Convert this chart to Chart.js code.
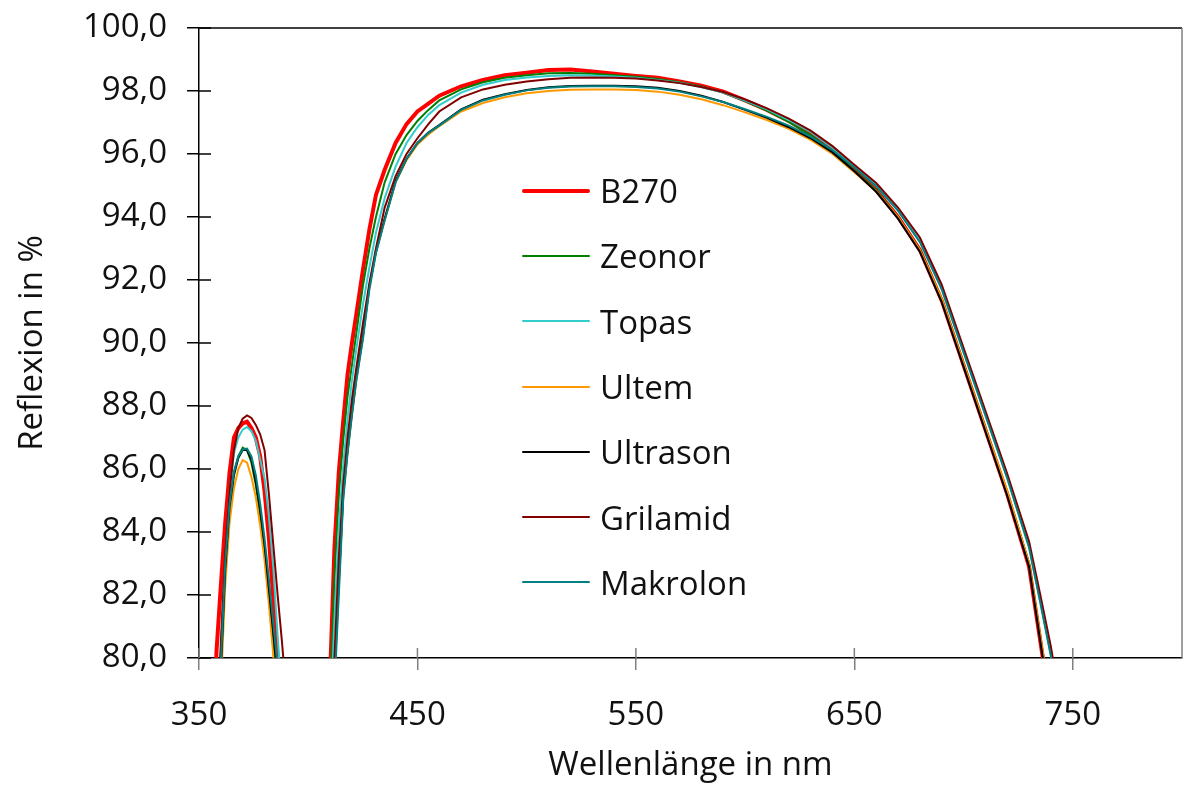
<!DOCTYPE html>
<html>
<head>
<meta charset="utf-8">
<script src="https://cdn.jsdelivr.net/npm/chart.js@4"></script>
<style>
  body { margin: 0; background: #fff; }
  #wrap { position: relative; width: 1184px; height: 785px; }
  #legend { position: absolute; left: 522px; top: 158px; font-family: 'Open Sans', sans-serif; font-size: 33px; color: #111; }
  .row { height: 65.3px; display: flex; align-items: center; }
  .swatch { width: 68px; margin-right: 10px; border-radius: 2px; }
</style>
</head>
<body>
<div id="wrap">
  <canvas id="stage" width="1184" height="785"></canvas>
  <div id="legend"></div>
</div>
<script>
// Wellenlängen [nm]
const wl = [356, 358, 360, 362, 364, 366, 368, 370, 372, 374, 376, 378, 380, 382, 384, 386, 388, 390,
  408, 410, 412, 414, 416, 418, 420, 422, 425, 428, 431, 435, 440, 445, 450, 455, 460,
  470, 480, 490, 500, 510, 520, 530, 540, 550, 560, 570, 580, 590, 600, 610, 620, 630, 640, 650,
  660, 670, 680, 690, 700, 710, 720, 730, 735, 740, 745];

// Reflexion [%] je Material
const b270 = [76.0, 80.2, 82.3, 84.3, 85.9, 87.0, 87.3, 87.45, 87.5, 87.3, 87.0, 86.4, 85.3, 83.8, 81.9, 80.0, 78.0, 76.0,
  75.5, 79.4, 83.5, 85.9, 87.5, 89.0, 90.0, 90.9, 92.3, 93.6, 94.7, 95.5, 96.35, 96.95, 97.35, 97.6, 97.85,
  98.15, 98.35, 98.5, 98.58, 98.67, 98.68, 98.62, 98.55, 98.48, 98.42, 98.3, 98.17, 97.98, 97.7, 97.4, 97.05, 96.62, 96.12, 95.5,
  94.85, 94.0, 92.95, 91.35, 89.3, 87.25, 85.2, 82.9, 80.6, 78.3, 76.3];
const zeonor = [74.0, 77.2, 80.2, 83.2, 85.0, 85.9, 86.4, 86.68, 86.6, 86.2, 85.5, 84.5, 83.3, 81.9, 80.3, 78.6, 77.0, 75.5,
  75.0, 78.8, 82.6, 85.2, 86.9, 88.3, 89.3, 90.3, 91.8, 93.0, 94.0, 95.1, 96.0, 96.6, 97.05, 97.4, 97.7,
  98.05, 98.28, 98.42, 98.5, 98.56, 98.57, 98.55, 98.5, 98.45, 98.38, 98.28, 98.14, 97.95, 97.68, 97.38, 97.02, 96.6, 96.1, 95.47,
  94.85, 94.0, 92.95, 91.4, 89.35, 87.3, 85.25, 83.0, 80.7, 78.4, 76.4];
const topas = [73.5, 76.5, 79.8, 83.0, 85.3, 86.5, 87.0, 87.25, 87.33, 87.2, 86.9, 86.3, 85.7, 84.5, 82.9, 80.7, 78.7, 76.8,
  74.5, 77.9, 81.2, 84.2, 86.1, 87.6, 88.8, 89.8, 91.2, 92.4, 93.5, 94.6, 95.6, 96.35, 96.85, 97.25, 97.55,
  97.95, 98.2, 98.35, 98.43, 98.48, 98.5, 98.49, 98.46, 98.42, 98.35, 98.26, 98.12, 97.95, 97.7, 97.42, 97.08, 96.7, 96.2, 95.62,
  95.0, 94.2, 93.25, 91.75, 89.75, 87.75, 85.75, 83.55, 81.85, 80.1, 78.1];
const ultem = [73.0, 76.0, 79.0, 82.3, 84.3, 85.4, 86.0, 86.28, 86.2, 85.75, 85.1, 84.2, 83.1, 81.7, 80.1, 78.4, 76.8, 75.3,
  73.5, 76.5, 79.3, 82.3, 85.1, 86.5, 87.7, 88.8, 90.2, 91.8, 92.9, 93.9, 95.1, 95.8, 96.3, 96.62, 96.88,
  97.35, 97.62, 97.8, 97.93, 98.0, 98.04, 98.05, 98.05, 98.03, 97.98, 97.88, 97.74, 97.55, 97.32, 97.08, 96.8, 96.45, 96.0, 95.42,
  94.82, 94.0, 92.95, 91.4, 89.35, 87.3, 85.3, 83.0, 80.75, 78.5, 76.5];
const ultrason = [73.0, 76.2, 79.6, 82.8, 84.8, 85.8, 86.35, 86.6, 86.6, 86.3, 85.6, 84.7, 83.6, 82.2, 80.8, 79.3, 77.6, 76.0,
  73.8, 76.8, 79.6, 82.4, 85.2, 86.6, 87.8, 88.9, 90.2, 91.8, 92.9, 93.95, 95.15, 95.85, 96.35, 96.68, 96.92,
  97.42, 97.72, 97.9, 98.03, 98.12, 98.16, 98.17, 98.17, 98.15, 98.1, 98.0, 97.85, 97.65, 97.4, 97.15, 96.85, 96.5, 96.05, 95.45,
  94.8, 93.95, 92.9, 91.3, 89.25, 87.2, 85.15, 82.9, 80.6, 78.3, 76.3];
const grilamid = [73.5, 77.0, 80.5, 83.3, 85.3, 86.6, 87.3, 87.6, 87.7, 87.62, 87.4, 87.1, 86.6, 85.2, 83.6, 82.0, 80.5, 78.8,
  74.0, 77.0, 80.0, 83.2, 85.5, 87.0, 88.2, 89.2, 90.6, 91.9, 93.0, 94.3, 95.3, 96.0, 96.5, 96.95, 97.35,
  97.8, 98.05, 98.2, 98.3, 98.37, 98.42, 98.43, 98.42, 98.4, 98.33, 98.25, 98.13, 97.97, 97.73, 97.45, 97.12, 96.74, 96.25, 95.66,
  95.08, 94.3, 93.35, 91.85, 89.85, 87.85, 85.85, 83.7, 82.05, 80.35, 78.3];
const makrolon = [72.5, 76.0, 79.8, 83.0, 84.9, 85.9, 86.4, 86.62, 86.65, 86.4, 85.8, 84.9, 83.8, 82.5, 81.1, 79.7, 78.0, 76.3,
  73.5, 76.3, 79.0, 82.0, 85.0, 86.5, 87.7, 88.8, 90.1, 91.7, 92.85, 93.9, 95.1, 95.85, 96.35, 96.67, 96.9,
  97.4, 97.7, 97.88, 98.02, 98.1, 98.14, 98.15, 98.15, 98.13, 98.08, 97.98, 97.83, 97.65, 97.42, 97.18, 96.9, 96.55, 96.12, 95.58,
  94.98, 94.2, 93.2, 91.7, 89.7, 87.7, 85.7, 83.5, 81.8, 80.05, 78.0];

const labels = ['B270', 'Zeonor', 'Topas', 'Ultem', 'Ultrason', 'Grilamid', 'Makrolon'];
const series = [b270, zeonor, topas, ultem, ultrason, grilamid, makrolon];
const colors = ['#FF0000', '#008000', '#33CCCC', '#FF9900', '#000000', '#800000', '#008080'];
const widths = [4, 2, 2, 2, 2, 2, 2];

const xTicks = [350, 450, 550, 650, 750];
const yTicks = [80, 82, 84, 86, 88, 90, 92, 94, 96, 98, 100];

const font = { family: "'Open Sans', sans-serif", size: 33 };

// Rahmen oben/rechts und Teilstriche nach innen
const framePlugin = {
  id: 'frame',
  afterDatasetsDraw(chart) {
    const ctx = chart.ctx;
    const a = chart.chartArea;
    ctx.save();
    ctx.lineWidth = 1.5;
    ctx.strokeStyle = '#000';
    ctx.beginPath();
    ctx.moveTo(a.left, a.top);
    ctx.lineTo(a.right, a.top);
    ctx.stroke();
    ctx.strokeStyle = '#808080';
    ctx.beginPath();
    ctx.moveTo(a.right, a.top);
    ctx.lineTo(a.right, a.bottom);
    ctx.stroke();
    ctx.strokeStyle = '#000';
    for (const v of yTicks) {
      const y = chart.scales.y.getPixelForValue(v);
      ctx.beginPath();
      ctx.moveTo(a.left, y);
      ctx.lineTo(a.left + 12, y);
      ctx.stroke();
    }
    ctx.strokeStyle = '#808080';
    for (const v of xTicks) {
      const x = chart.scales.x.getPixelForValue(v);
      ctx.beginPath();
      ctx.moveTo(x, a.bottom);
      ctx.lineTo(x, a.bottom - 10);
      ctx.stroke();
    }
    ctx.restore();
  }
};

const datasets = series.map((vals, i) => ({
  label: labels[i],
  data: vals.map((v, j) => ({ x: wl[j], y: v })),
  borderColor: colors[i],
  borderWidth: widths[i],
  order: series.length - i,
  clip: 0,
  showLine: true
}));

new Chart(document.getElementById('stage'), {
  type: 'scatter',
  data: { datasets: datasets },
  options: {
    responsive: false,
    animation: false,
    layout: { padding: { top: 28, right: 2, left: 0, bottom: 0 } },
    elements: { point: { radius: 0 }, line: { tension: 0 } },
    plugins: { legend: { display: false }, tooltip: { enabled: false } },
    scales: {
      x: {
        type: 'linear', min: 350, max: 800,
        afterBuildTicks: s => { s.ticks = xTicks.map(v => ({ value: v })); },
        afterFit: s => { s.height = 127; s.paddingRight = 0; },
        grid: { drawOnChartArea: false, tickLength: 12, color: '#808080', lineWidth: 1.5 },
        border: { color: '#000', width: 1.5 },
        ticks: { font: font, color: '#111', padding: 26, maxRotation: 0, callback: v => String(v) },
        title: { display: true, text: 'Wellenlänge in nm', font: font, color: '#111', padding: { top: 0, bottom: 0 } }
      },
      y: {
        type: 'linear', min: 80, max: 100,
        afterBuildTicks: s => { s.ticks = yTicks.map(v => ({ value: v })); },
        afterFit: s => { s.width = 199; s.paddingTop = 0; s.paddingBottom = 0; },
        grid: { drawOnChartArea: false, tickLength: 12, color: '#000', lineWidth: 1.5 },
        border: { color: '#000', width: 1.5 },
        ticks: { font: font, color: '#111', padding: 20, callback: v => v.toFixed(1).replace('.', ',') },
        title: { display: true, text: 'Reflexion in %', font: font, color: '#111', padding: { top: 13, bottom: 13 } }
      }
    }
  },
  plugins: [framePlugin]
});

// Legende
const legend = document.getElementById('legend');
labels.forEach((name, i) => {
  const row = document.createElement('div');
  row.className = 'row';
  const sw = document.createElement('div');
  sw.className = 'swatch';
  sw.style.height = widths[i] + 'px';
  sw.style.background = colors[i];
  const tx = document.createElement('span');
  tx.textContent = name;
  row.appendChild(sw);
  row.appendChild(tx);
  legend.appendChild(row);
});
</script>
</body>
</html>
